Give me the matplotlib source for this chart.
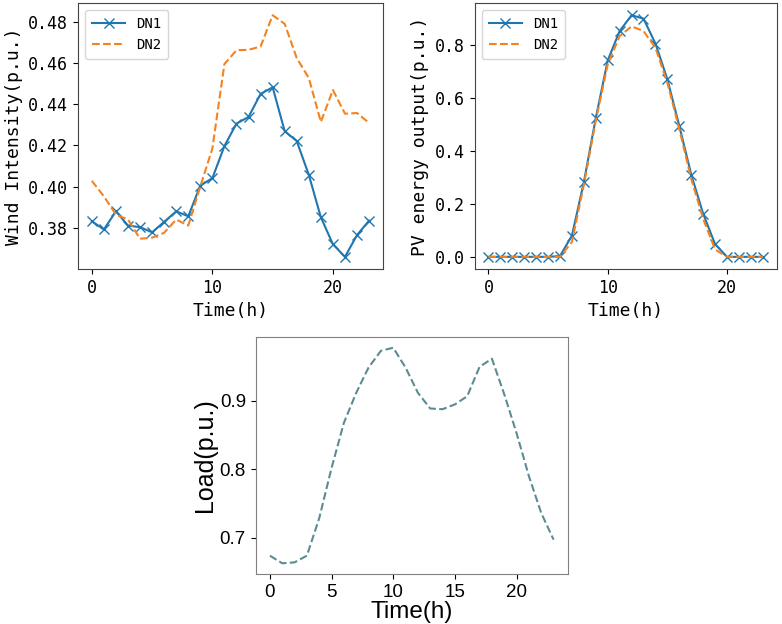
import numpy as np
import matplotlib.pyplot as plt

# 数据
hours = list(range(24))

wind_dn1 = [0.3832, 0.3792, 0.3880, 0.3811, 0.3803, 0.3778, 0.3829, 0.3880,
            0.3856, 0.4005, 0.4041, 0.4197, 0.4306, 0.4338, 0.4450, 0.4482,
            0.4269, 0.4221, 0.4057, 0.3851, 0.3720, 0.3659, 0.3765, 0.3835]
wind_dn2 = [0.4028, 0.3953, 0.3864, 0.3840, 0.3747, 0.3752, 0.3776, 0.3840,
            0.3811, 0.4001, 0.4185, 0.4595, 0.4662, 0.4664, 0.4680, 0.4832,
            0.4790, 0.4624, 0.4527, 0.4314, 0.4469, 0.4354, 0.4357, 0.4309]

pv_dn1 = [0, 0, 0, 0, 0, 0, 0.003, 0.080, 0.282, 0.524, 0.742, 0.853,
          0.913, 0.900, 0.806, 0.671, 0.495, 0.311, 0.163, 0.048, 0, 0, 0, 0]
pv_dn2 = [0, 0, 0, 0, 0, 0, 0, 0.056, 0.272, 0.514, 0.727, 0.834,
          0.871, 0.853, 0.790, 0.658, 0.483, 0.295, 0.144, 0.028, 0, 0, 0, 0]

load = [0.6735, 0.6623, 0.6637, 0.6735, 0.7284, 0.8020, 0.8680, 0.9120,
        0.9490, 0.9735, 0.9780, 0.9490, 0.9120, 0.8890, 0.8880, 0.8950,
        0.9070, 0.9500, 0.9620, 0.9100, 0.8530, 0.7900, 0.7360, 0.6970]

mono = 'DejaVu Sans Mono'
fig = plt.figure(figsize=(7.82, 6.24), dpi=100)

# 上左: 风
ax1 = fig.add_axes([0.0997, 0.569, 0.390, 0.426])
ax1.plot(hours, wind_dn1, '-x', color='#2077b0', lw=1.5, ms=7, label='DN1')
ax1.plot(hours, wind_dn2, '--', color='#f5821f', lw=1.5, label='DN2')
ax1.set_yticks([0.38, 0.40, 0.42, 0.44, 0.46, 0.48])
ax1.set_xlabel('Time(h)', family=mono, fontsize=13)
ax1.set_ylabel('Wind Intensity(p.u.)', family=mono, fontsize=13)

# 上右: 光伏
ax2 = fig.add_axes([0.607, 0.569, 0.386, 0.426])
ax2.plot(hours, pv_dn1, '-x', color='#2077b0', lw=1.5, ms=7, label='DN1')
ax2.plot(hours, pv_dn2, '--', color='#f5821f', lw=1.5, label='DN2')
ax2.set_xlabel('Time(h)', family=mono, fontsize=13)
ax2.set_ylabel('PV energy output(p.u.)', family=mono, fontsize=13)

for ax in (ax1, ax2):
    ax.set_xticks([0, 10, 20])
    ax.legend(loc='upper left', prop={'family': mono, 'size': 10},
              handlelength=2.4, borderpad=0.5)
    for lab in ax.get_xticklabels() + ax.get_yticklabels():
        lab.set_family(mono)
        lab.set_fontsize(12)
    for s in ax.spines.values():
        s.set_color('#444444')

# 下: 负荷
ax3 = fig.add_axes([0.327, 0.080, 0.399, 0.380])
ax3.plot(hours, load, '--', color='#5b8c93', lw=1.5)
ax3.set_xticks([0, 5, 10, 15, 20])
ax3.set_yticks([0.7, 0.8, 0.9])
ax3.tick_params(labelsize=13.5)
for lab in ax3.get_xticklabels() + ax3.get_yticklabels():
    lab.set_family('Liberation Sans')
ax3.set_xlabel('Time(h)', family='Liberation Sans', fontsize=17.5, labelpad=0)
ax3.set_ylabel('Load(p.u.)', family='Liberation Sans', fontsize=18, labelpad=2)
for s in ax3.spines.values():
    s.set_color('#808080')

fig.savefig('out.png', dpi=100)
